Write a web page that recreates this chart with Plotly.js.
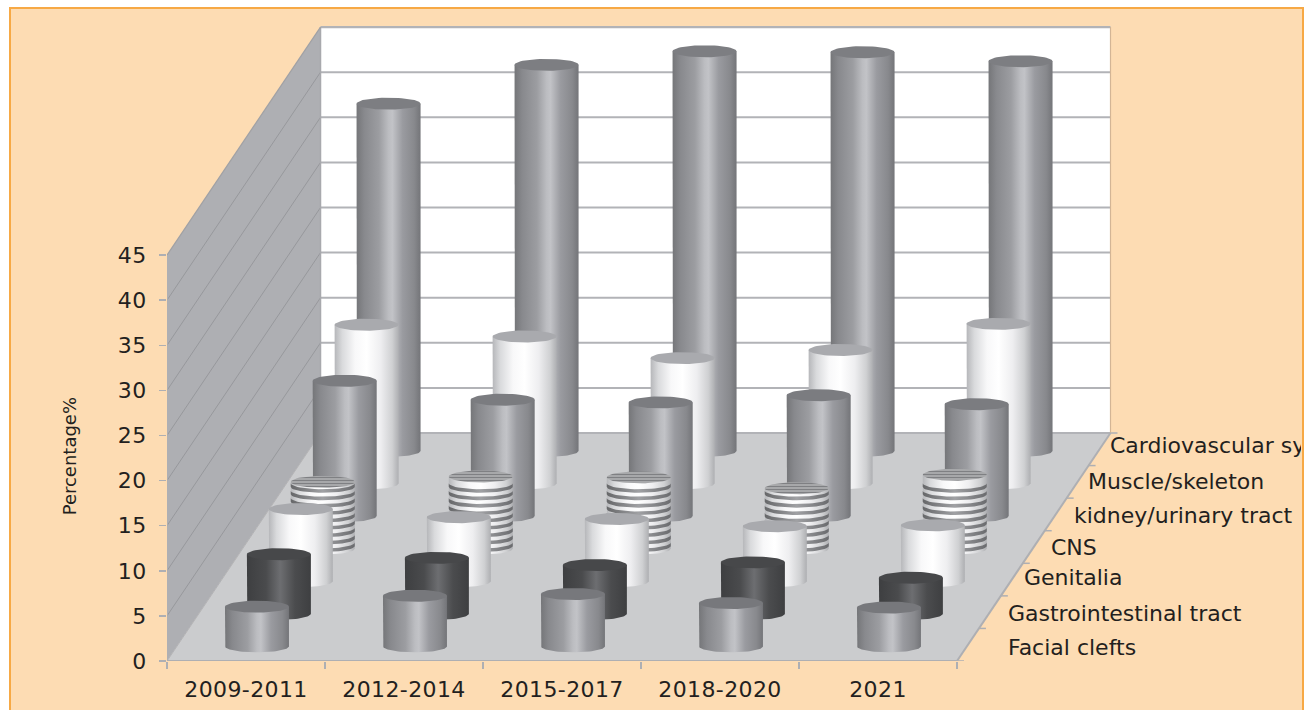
<!DOCTYPE html>
<html><head><meta charset="utf-8">
<script src="https://cdn.plot.ly/plotly-3.0.1.min.js"></script>
<style>
html,body{margin:0;padding:0;background:#fff;width:1316px;height:710px;overflow:hidden}
#panel{position:absolute;left:9px;top:7px;width:1291px;height:703px;background:#fddcb3;border:solid #f7a945;border-width:2px 2px 0 2px}
#clip{position:absolute;left:0;top:0;width:1301px;height:710px;overflow:hidden}
#chart{position:absolute;left:0;top:0;width:1316px;height:710px}
#chart text{letter-spacing:.4px}
#chart .annotation text{letter-spacing:0}
</style></head><body>
<div id="panel"></div><div id="clip"><div id="chart"></div></div>
<script>
const periods = ['2009-2011','2012-2014','2015-2017','2018-2020','2021'];
const seriesNames = ['Facial clefts','Gastrointestinal tract','Genitalia','CNS','kidney/urinary tract','Muscle/skeleton','Cardiovascular system'];
const facialClefts  = [4.4,5.6,5.8,4.8,4.3];
const gastroTract   = [6.6,6.2,5.4,5.7,4.0];
const genitalia     = [8.0,7.1,6.9,6.1,6.2];
const cns           = [7.4,8.0,7.9,6.7,8.2];
const kidneyTract   = [15.0,12.9,12.6,13.4,12.4];
const muscleSkeleton= [17.6,16.3,13.9,14.8,17.7];
const cardiovascular= [38.5,42.8,44.3,44.2,43.2];
const yTicks = [0,5,10,15,20,25,30,35,40,45];

const allValues=[facialClefts,gastroTract,genitalia,cns,kidneyTract,muscleSkeleton,cardiovascular];
const UX=158, UY=9.02;             // px per category, px per percent
const DX=153.5/UX, DY=228/UY;      // full depth offset in axis units
const N=seriesNames.length, RX=32/UX, RY=6/UY, X0=-0.5, XN=X0+periods.length;
const depth=d=>({x:d/N*DX,y:d/N*DY});
const GREY=[[0,'#757679'],[.12,'#88898d'],[.35,'#9c9da1'],[.5,'#bcbdc1'],[.56,'#c2c3c7'],[.72,'#9a9ba0'],[.9,'#88898d'],[1,'#747579']];
const WHITE=[[0,'#b6b7ba'],[.12,'#d9dadc'],[.32,'#f8f8f9'],[.5,'#ffffff'],[.72,'#eeeef0'],[.9,'#cfd0d2'],[1,'#aeafb2']];
const DARK=[[0,'#3e3f41'],[.3,'#4a4b4d'],[.52,'#6d6e71'],[.75,'#4b4c4e'],[1,'#3e3f41']];
const BAND=[[0,'#666769'],[.5,'#a0a1a4'],[1,'#6a6b6e']];
const looks=[{g:GREY,cap:'#77787c'},{g:DARK,cap:'#47484a'},{g:WHITE,cap:'#a9aaae'},{g:WHITE,cap:'#97989b',striped:true},{g:GREY,cap:'#7b7c80'},{g:WHITE,cap:'#a9aaae'},{g:GREY,cap:'#7d7e82'}];

const traces=[];
function poly(x,y,o){traces.push(Object.assign({type:'scatter',mode:'lines',x,y,fill:'toself',line:{width:0},hoverinfo:'skip',showlegend:false,cliponaxis:false},o||{}));}
function seg(x,y,color,width){traces.push({type:'scatter',mode:'lines',x,y,line:{color,width},hoverinfo:'skip',showlegend:false,cliponaxis:false});}

// walls and floor
const wallTop=yTicks[yTicks.length-1];
poly([X0+DX,XN+DX,XN+DX,X0+DX],[DY,DY,wallTop+DY,wallTop+DY],{fillcolor:'#ffffff'});
poly([X0,X0+DX,X0+DX,X0],[0,DY,wallTop+DY,wallTop],{fillcolor:'#aeafb3'});
poly([X0,XN,XN+DX,X0+DX],[0,0,DY,DY],{fillcolor:'#cbccce'});
yTicks.forEach(v=>{
  if(v>0&&v<wallTop){seg([X0+DX,XN+DX],[v+DY,v+DY],'#b2b3b7',2);seg([X0,X0+DX],[v,v+DY],'#97989c',1);}
});
seg([X0+DX,XN+DX],[DY,DY],'#b2b3b7',2);
seg([X0+DX,XN+DX],[wallTop+DY,wallTop+DY],'#b2b3b7',2.5);
seg([XN+DX,XN+DX],[DY,wallTop+DY],'#d3b595',1.2);
seg([X0+DX,X0+DX],[DY,wallTop+DY],'#a8a9ad',1.5);
seg([X0,X0+DX],[wallTop,wallTop+DY],'#a0a1a5',1.2);
seg([X0,X0+DX],[0,DY],'#b2b3b7',1);
seg([X0,X0],[0,wallTop],'#aeafb3',1.5);
seg([X0,XN],[0,0],'#aeafb3',2);
seg([XN,XN+DX],[0,DY],'#aeafb3',2);
// depth axis tick marks
const tx=[],ty=[];
for(let d=0;d<=N;d++){const p=depth(d);tx.push(XN+p.x,XN+p.x+7/UX,null);ty.push(p.y,p.y,null);}
seg(tx,ty,'#aeafb3',1.5);

// cylinders, back row first
for(let s=N-1;s>=0;s--){
  const p=depth(s+0.45), look=looks[s], px=depth(s+0.5).x;
  allValues[s].forEach((v,c)=>{
    const cx=c+px, base=p.y, tp=base+v;
    const bx0=[cx-RX],by0=[tp];
    for(let k=0;k<=40;k++){const a=Math.PI*k/40;bx0.push(cx-RX*Math.cos(a));by0.push(base-RY*Math.sin(a));}
    bx0.push(cx+RX);by0.push(tp);
    poly(bx0,by0,{fillgradient:{type:'horizontal',colorscale:look.g}});
    const ex=[],ey=[];
    for(let k=0;k<=60;k++){const a=2*Math.PI*k/60;ex.push(cx+RX*Math.cos(a));ey.push(tp+RY*Math.sin(a));}
    if(look.striped){
      const bx=[],by=[],P=7.4/UY,W=3.6/UY;
      for(let h=P*0.35;h+W<v-RY*0.2;h+=P){
        for(let k=0;k<=24;k++){const a=Math.PI*k/24;bx.push(cx-RX*Math.cos(a));by.push(base+h-RY*Math.sin(a));}
        for(let k=24;k>=0;k--){const a=Math.PI*k/24;bx.push(cx-RX*Math.cos(a));by.push(base+h+W-RY*Math.sin(a));}
        bx.push(null);by.push(null);
      }
      poly(bx,by,{fillgradient:{type:'horizontal',colorscale:BAND}});
      poly(ex,ey,{fillcolor:'#a5a6a8',fillpattern:{shape:'-',size:3,solidity:0.5,fgcolor:'#7f8083',bgcolor:'#b4b5b7'}});
    } else {
      poly(ex,ey,{fillcolor:look.cap});
    }
  });
}

// depth axis labels
const labelGap=[38,16,10,15,16,8,8], labelRise=[-3,-1,2,0,-1,0,4];
const annotations=seriesNames.map((t,s)=>{const p=depth(s+0.5);return{
  text:t,xref:'x',yref:'y',x:XN+p.x,y:p.y,xanchor:'left',yanchor:'middle',xshift:labelGap[s],yshift:labelRise[s],
  showarrow:false,font:{family:'DejaVu Sans',size:22,color:'#231f20'}};});
annotations.push({text:'Percentage%',xref:'paper',yref:'paper',x:-0.102,y:0.322,textangle:-90,xanchor:'center',yanchor:'middle',showarrow:false,font:{family:'DejaVu Sans',size:18,color:'#231f20'}});

const bands=[];for(let i=0;i<=periods.length;i++)bands.push(X0+i);
const layout={
  width:1316,height:710,margin:{l:167,r:196,t:26,b:49,pad:0},
  paper_bgcolor:'rgba(0,0,0,0)',plot_bgcolor:'rgba(0,0,0,0)',showlegend:false,
  font:{family:'DejaVu Sans',size:22,color:'#231f20'},
  xaxis:{range:[X0,X0+953/UX],tickmode:'array',tickvals:periods.map((_,i)=>i),ticktext:periods,ticks:'',showgrid:false,zeroline:false,showline:false,
    ticklabelstandoff:13,tickfont:{size:22,color:'#231f20'},
    minor:{tickmode:'array',tickvals:bands,ticks:'outside',ticklen:7,tickcolor:'#aeafb3',tickwidth:1.5,showgrid:false}},
  yaxis:{range:[0,635/UY],tickmode:'array',tickvals:yTicks,ticks:'outside',ticklen:7,tickcolor:'#aeafb3',tickwidth:1.5,showgrid:false,zeroline:false,showline:false,
    ticklabelstandoff:8,tickfont:{size:22,color:'#231f20'}},
  annotations
};
Plotly.newPlot('chart',traces,layout,{staticPlot:true,displayModeBar:false});
</script></body></html>
